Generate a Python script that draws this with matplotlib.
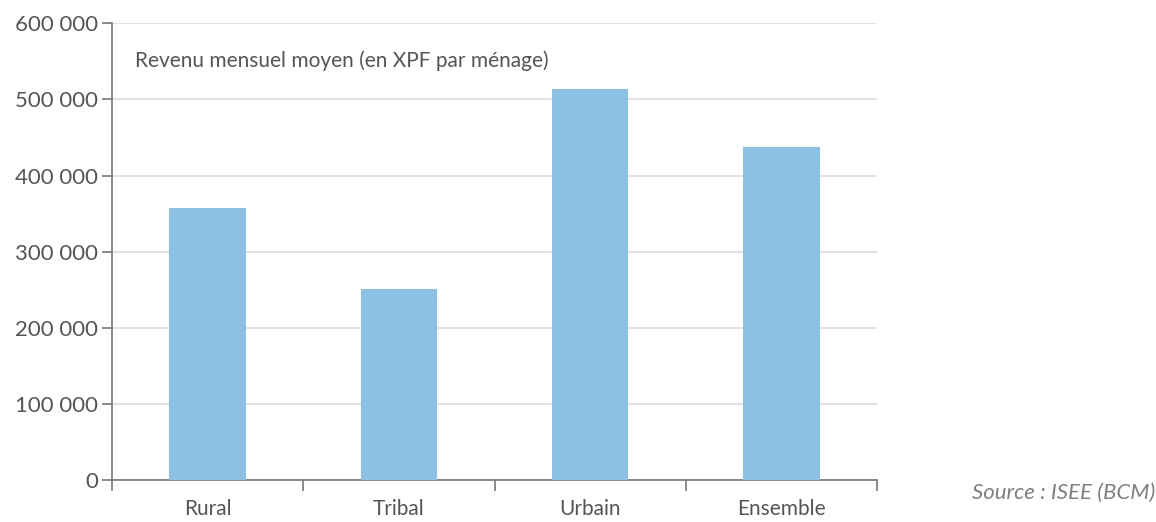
import matplotlib
matplotlib.use("Agg")
import matplotlib.pyplot as plt
from matplotlib.ticker import FuncFormatter, FixedLocator, NullFormatter

categories = ["Rural", "Tribal", "Urbain", "Ensemble"]
revenu = [357500, 251000, 513500, 437500]
yticks = [0, 100000, 200000, 300000, 400000, 500000, 600000]

plt.rcParams["font.family"] = ["Lato", "DejaVu Sans"]

fig = plt.figure(figsize=(11.56, 5.22), dpi=100)
ax = fig.add_axes([112 / 1156, 42 / 522, 765 / 1156, 456.7 / 522])

x = list(range(len(categories)))
ax.bar(x, revenu, width=0.4, color="#8BC1E5", zorder=3)

ax.set_xlim(-0.5, len(categories) - 0.5)
ax.set_ylim(0, 600000)
ax.set_yticks(yticks)
ax.yaxis.set_major_formatter(FuncFormatter(lambda v, p: f"{int(v):,}".replace(",", " ")))
ax.grid(axis="y", color="#DDDDDD", linewidth=1.2, zorder=0)

# Category labels centred, ticks at category boundaries
ax.set_xticks(x)
ax.set_xticklabels(categories)
ax.tick_params(axis="x", which="major", length=0, pad=14, labelsize=15, labelcolor="#555555")
ax.xaxis.set_minor_locator(FixedLocator([i - 0.5 for i in range(len(categories) + 1)]))
ax.xaxis.set_minor_formatter(NullFormatter())
ax.tick_params(axis="x", which="minor", length=8, width=1.2, color="#777777")
ax.tick_params(axis="y", length=7, width=1.2, color="#777777", labelsize=16, labelcolor="#555555", pad=3)

for side in ["top", "right"]:
    ax.spines[side].set_visible(False)
for side in ["left", "bottom"]:
    ax.spines[side].set_color("#777777")
    ax.spines[side].set_linewidth(1.2)

ax.text(135, 461, "Revenu mensuel moyen (en XPF par ménage)", transform=None,
        fontsize=15, color="#555555", va="center", ha="left")
fig.text(1155 / 1156, 1 - 493 / 522, "Source : ISEE (BCM)", fontsize=16, style="italic",
         color="#808080", ha="right", va="center")

fig.savefig("out.png", dpi=100)
